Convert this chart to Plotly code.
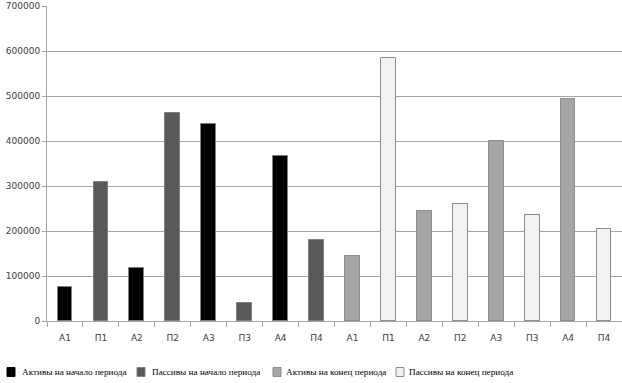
import plotly.graph_objects as go

categories = ["А1", "П1", "А2", "П2", "А3", "П3", "А4", "П4",
              "А1", "П1", "А2", "П2", "А3", "П3", "А4", "П4"]
positions = list(range(len(categories)))

series_names = ["Активы на начало периода", "Пассивы на начало периода",
                "Активы на конец периода", "Пассивы на конец периода"]

# values per series at their category positions
assets_start_pos = [0, 2, 4, 6]
assets_start = [75000, 118000, 438000, 366000]
liab_start_pos = [1, 3, 5, 7]
liab_start = [310000, 462000, 41000, 181000]
assets_end_pos = [8, 10, 12, 14]
assets_end = [144000, 244000, 399000, 493000]
liab_end_pos = [9, 11, 13, 15]
liab_end = [584000, 259000, 236000, 204000]

y_ticks = [0, 100000, 200000, 300000, 400000, 500000, 600000, 700000]

colors = ["#000000", "#595959", "#A6A6A6", "#F2F2F2"]
edges = ["#7F7F7F", "#7F7F7F", "#8C8C8C", "#8C8C8C"]

W, H = 622, 383
ML, MR, MT, MB = 47, 0, 6, 62
PW, PH = W - ML - MR, H - MT - MB

fig = go.Figure()
for name, xs, ys, c, e in zip(series_names,
                              [assets_start_pos, liab_start_pos, assets_end_pos, liab_end_pos],
                              [assets_start, liab_start, assets_end, liab_end],
                              colors, edges):
    fig.add_trace(go.Bar(x=xs, y=ys, name=name, width=0.41, showlegend=False,
                         marker=dict(color=c, line=dict(color=e, width=1))))

# legend drawn as keys + text below the plot (pixel layout -> paper coords)
legend_square_px = [7, 137, 273, 396]
legend_text_px = [20, 150, 284, 407]
legend_y_px = 372
def px_x(p):
    return (p - ML) / PW
def px_y(p):
    return (H - MB - p) / PH

shapes = []
annotations = []
for name, c, e, sx, tx in zip(series_names, colors, edges, legend_square_px, legend_text_px):
    shapes.append(dict(type="rect", xref="paper", yref="paper",
                       x0=px_x(sx), x1=px_x(sx + 8), y0=px_y(legend_y_px + 4.5), y1=px_y(legend_y_px - 4.5),
                       fillcolor=c, line=dict(color=e if c != "#000000" else "#000000", width=1)))
    annotations.append(dict(xref="paper", yref="paper", x=px_x(tx), y=px_y(legend_y_px),
                            xanchor="left", yanchor="middle", text=name, showarrow=False,
                            font=dict(family="Liberation Serif", size=9.2, color="#000000")))

fig.update_layout(
    width=W, height=H,
    margin=dict(l=ML, r=MR, t=MT, b=MB),
    paper_bgcolor="white", plot_bgcolor="white",
    barmode="overlay",
    bargap=0,
    hovermode=False,
    showlegend=False,
    font=dict(family="DejaVu Sans", size=9, color="#404040"),
    xaxis=dict(range=[-0.5, 15.5], tickvals=positions, ticktext=categories,
               ticks="", showgrid=False, showline=True, linecolor="#A6A6A6",
               linewidth=1, zeroline=False, ticklabelstandoff=8,
               tickfont=dict(family="DejaVu Sans", size=9, color="#404040"),
               minor=dict(tick0=-0.5, dtick=1, ticks="outside", ticklen=5,
                          tickcolor="#A6A6A6", showgrid=False)),
    yaxis=dict(range=[0, 700000], tickvals=y_ticks, tickformat="d",
               showgrid=True, gridcolor="#A6A6A6", gridwidth=1,
               showline=True, linecolor="#A6A6A6", linewidth=1,
               ticks="outside", ticklen=4, tickcolor="#A6A6A6",
               zeroline=False,
               tickfont=dict(family="DejaVu Sans", size=9, color="#404040")),
    shapes=shapes,
    annotations=annotations,
)

fig.write_html("out.html", config={"displayModeBar": False},
               post_script="document.body.style.margin='0';")
